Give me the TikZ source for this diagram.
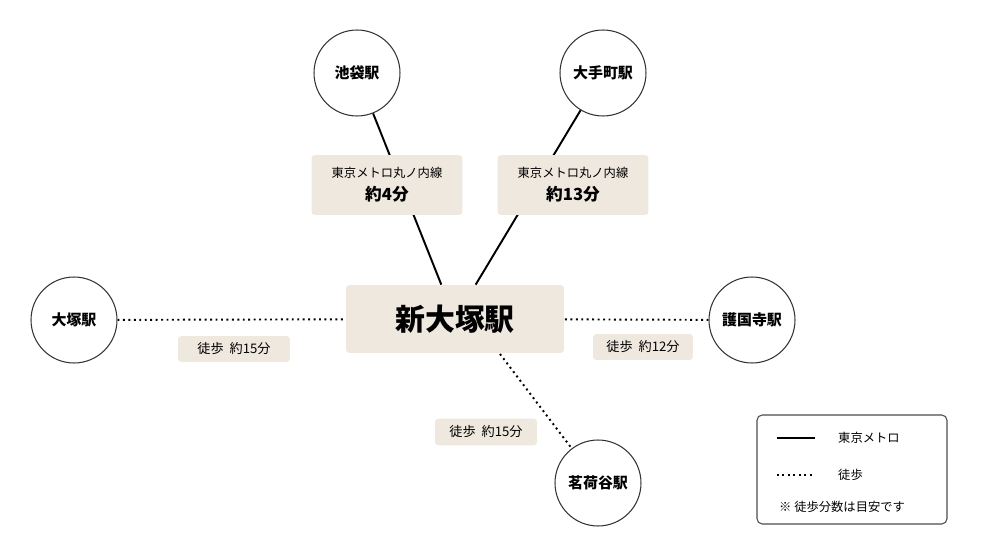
\documentclass[tikz,border=0pt]{standalone}
\usepackage{fontspec}
\setmainfont{Noto Sans CJK JP}
\usetikzlibrary{positioning}
\definecolor{beige}{HTML}{EFE8DF}
\tikzset{
  station/.style={circle,draw=black!80,line width=0.6pt,minimum size=1.72cm,inner sep=0pt,font=\fontsize{8.5}{10}\selectfont\bfseries},
  hub/.style={rectangle,rounded corners=2pt,fill=beige,minimum width=4.36cm,minimum height=1.36cm,font=\fontsize{17}{20}\selectfont\bfseries},
  info/.style={rectangle,rounded corners=2pt,fill=beige,align=center,inner sep=3pt},
  metro/.style={line width=1.1pt},
  walk/.style={line width=1.1pt,dotted},
}
\begin{document}
\begin{tikzpicture}[x=0.02cm,y=-0.02cm]
  \useasboundingbox (0,0) rectangle (981,554);

  \node[hub] (shin) at (455,319) {新大塚駅};
  \node[station] (ike) at (357,73) {池袋駅};
  \node[station] (ote) at (603,73) {大手町駅};
  \node[station] (otsuka) at (74,320) {大塚駅};
  \node[station] (gokoku) at (752,320) {護国寺駅};
  \node[station] (myoga) at (598,483) {茗荷谷駅};
  \coordinate (shinS) at (500,354);

  % connectors
  \draw[metro] (ike) -- (shin);
  \draw[metro] (ote) -- (shin);
  \draw[walk] (otsuka) -- (shin);
  \draw[walk] (gokoku) -- (shin);
  \draw[walk] (shinS) -- (myoga);

  % labels
  \node[info,minimum width=3.02cm,minimum height=1.2cm] (l1) at (387,185)
    {{\fontsize{7}{9}\selectfont 東京メトロ丸ノ内線}\\[1pt]{\fontsize{9.5}{11}\selectfont\bfseries 約4分}};
  \node[info,minimum width=3.02cm,minimum height=1.2cm] (l2) at (573,185)
    {{\fontsize{7}{9}\selectfont 東京メトロ丸ノ内線}\\[1pt]{\fontsize{9.5}{11}\selectfont\bfseries 約13分}};
  \node[info,minimum width=2.24cm,minimum height=0.52cm,font=\fontsize{7.5}{9}\selectfont] (l3) at (234,349) {徒歩\ \ 約15分};
  \node[info,minimum width=2cm,minimum height=0.52cm,font=\fontsize{7.5}{9}\selectfont] (l4) at (643,347) {徒歩\ \ 約12分};
  \node[info,minimum width=2.04cm,minimum height=0.54cm,font=\fontsize{7.5}{9}\selectfont] (l5) at (486,432) {徒歩\ \ 約15分};

  % legend
  \draw[black!70,line width=0.6pt,rounded corners=3pt] (757,415) rectangle (947,524);
  \coordinate (m1) at (777,438);
  \coordinate (m2) at (815,438);
  \coordinate (w1) at (777,475);
  \coordinate (w2) at (815,475);
  \draw[metro] (m1) -- (m2);
  \draw[walk] (w1) -- (w2);
  \node[anchor=west,font=\fontsize{7}{9}\selectfont] (lm) at (832,438) {東京メトロ};
  \node[anchor=west,font=\fontsize{7}{9}\selectfont] (lw) at (832,475) {徒歩};
  \node[anchor=west,font=\fontsize{7}{9}\selectfont] (ln) at (773,507) {※ 徒歩分数は目安です};
\end{tikzpicture}
\end{document}
